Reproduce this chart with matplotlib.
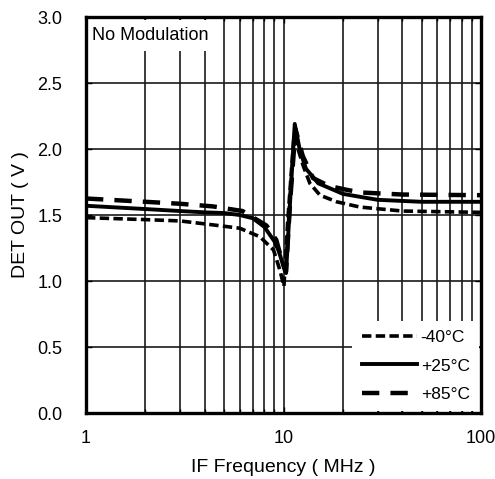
import matplotlib
matplotlib.use("Agg")
import matplotlib.pyplot as plt
from matplotlib.ticker import NullFormatter, LogLocator

plt.rcParams['font.family'] = ['Liberation Sans', 'DejaVu Sans']

# -40°C
f_m40 = [1, 2, 3, 4.4, 6, 7.6, 8.9, 9.6, 10.05, 10.5, 11.3, 12.6, 13.6, 15.3, 18.6, 24.4, 40, 100]
v_m40 = [1.48, 1.465, 1.455, 1.425, 1.40, 1.335, 1.235, 1.08, 0.96, 1.45, 2.10, 1.87, 1.74, 1.65, 1.60, 1.56, 1.53, 1.52]
# +25°C
f_25 = [1, 2, 3, 4, 5, 6, 7, 8, 9, 9.5, 9.9, 10.15, 10.3, 10.8, 11.4, 12.1, 13, 15, 20, 25, 30, 50, 100]
v_25 = [1.57, 1.545, 1.53, 1.52, 1.515, 1.50, 1.475, 1.41, 1.30, 1.22, 1.13, 1.08, 1.06, 1.60, 2.19, 1.99, 1.85, 1.74, 1.66, 1.635, 1.615, 1.60, 1.60]
# +85°C
f_85 = [1, 2, 3, 4.4, 6.2, 8.2, 9.2, 9.8, 10.3, 10.8, 11.5, 12.5, 14.1, 17, 21, 25, 40, 100]
v_85 = [1.625, 1.60, 1.585, 1.565, 1.53, 1.42, 1.31, 1.16, 1.07, 1.60, 2.15, 1.95, 1.78, 1.72, 1.69, 1.67, 1.655, 1.65]

labels = ['-40°C', '+25°C', '+85°C']
y_ticks = [0.0, 0.5, 1.0, 1.5, 2.0, 2.5, 3.0]
x_ticks = [1, 10, 100]
x_ticklabels = ['1', '10', '100']

fig = plt.figure(figsize=(4.95, 4.79), dpi=100)
ax = fig.add_axes([86/495, 1-413/479, (481-86)/495, (413-17)/479])

ax.plot(f_m40, v_m40, color='black', lw=2.6, ls=(0, (2.6, 1.2)), label=labels[0], zorder=3)
ax.plot(f_25, v_25, color='black', lw=2.8, ls='-', label=labels[1], zorder=3)
ax.plot(f_85, v_85, color='black', lw=3.2, ls=(0, (3.9, 2.5)), label=labels[2], zorder=3)

ax.set_xscale('log')
ax.set_xlim(1, 100)
ax.set_ylim(0, 3.0)
ax.set_xticks(x_ticks)
ax.set_xticklabels(x_ticklabels)
ax.xaxis.set_minor_locator(LogLocator(base=10, subs=range(2, 10)))
ax.xaxis.set_minor_formatter(NullFormatter())
ax.set_yticks(y_ticks)
ax.set_yticklabels([f'{t:.1f}' for t in y_ticks])

ax.grid(True, which='both', axis='x', color='#1a1a1a', lw=1.2, zorder=1)
ax.grid(True, which='major', axis='y', color='#1a1a1a', lw=1.2, zorder=1)
ax.set_axisbelow(True)

ax.tick_params(which='both', direction='in', top=True, right=True, labelsize=13, color='black')
ax.tick_params(which='major', length=4, width=1)
ax.tick_params(which='minor', length=3, width=1)
ax.tick_params(axis='x', pad=12)
ax.tick_params(axis='y', pad=17)
for s in ax.spines.values():
    s.set_linewidth(2.4)
    s.set_zorder(5)

ax.set_xlabel('IF Frequency ( MHz )', fontsize=14, labelpad=9)
ax.set_ylabel('DET OUT ( V )', fontsize=14, labelpad=6)

ax.text(0.016, 0.975, 'No Modulation', transform=ax.transAxes, fontsize=13,
        ha='left', va='top', zorder=4,
        bbox=dict(facecolor='white', edgecolor='none', pad=5))

leg = ax.legend(loc='lower right', frameon=True, fontsize=12.5, handlelength=3.2,
                labelspacing=0.75, handletextpad=0.2, borderaxespad=0.1,
                fancybox=False, borderpad=0.55)
leg.get_frame().set_edgecolor('none')
leg.get_frame().set_facecolor('white')
leg.get_frame().set_alpha(1.0)
leg.set_zorder(4)

fig.savefig('out.png', dpi=100)
